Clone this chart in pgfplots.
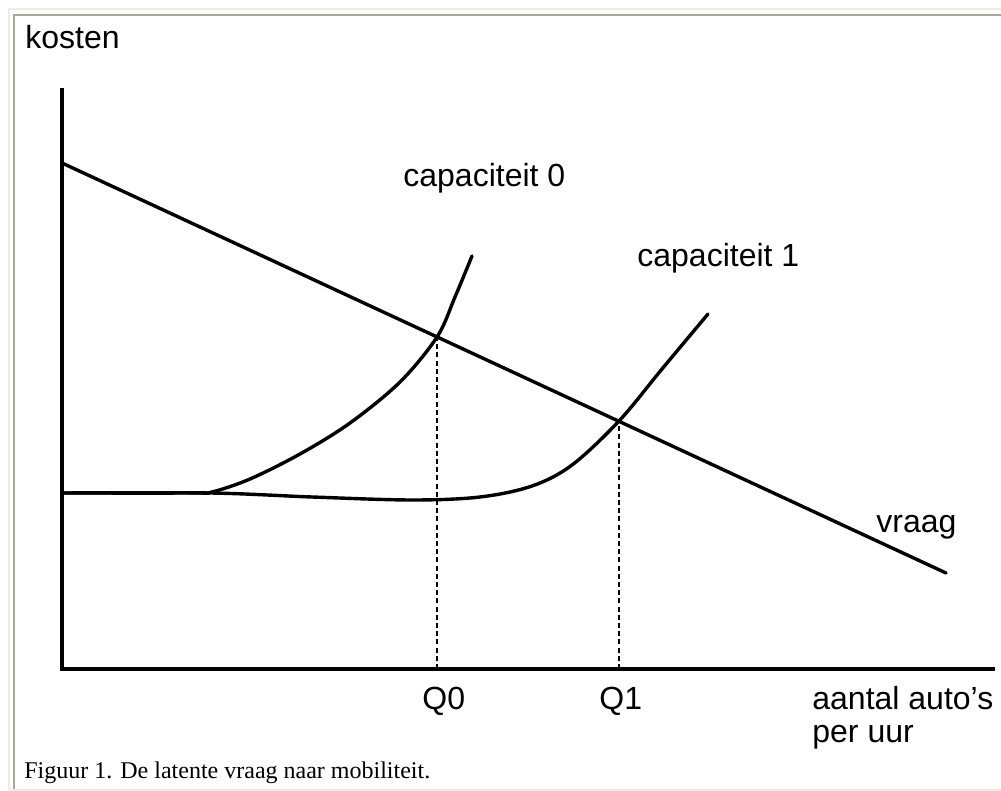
\documentclass[border=0pt]{standalone}
\usepackage{pgfplots}
\pgfplotsset{compat=1.18}
\usepackage{fontspec}
\setmainfont{Liberation Sans}
\newfontfamily\capfont{Liberation Serif}
\definecolor{frameout}{RGB}{239,235,222}
\definecolor{framein}{RGB}{172,168,153}
\tikzset{
  curve/.style={black, mark=none, line width=1.7pt, line cap=round, line join=round},
  guide/.style={black, mark=none, line width=0.8pt, dash pattern=on 2.5pt off 1.6pt, line cap=butt},
  lab/.style={anchor=base west, inner sep=0pt, font=\fontsize{16}{16}\selectfont},
}
\begin{document}
\begin{tikzpicture}
\path[use as bounding box] (-31pt,-61pt) rectangle (469.5pt,334.5pt);
\begin{axis}[
  at={(0pt,0pt)}, anchor=south west,
  scale only axis, width=465.5pt, height=289.5pt,
  xmin=0, xmax=931, ymin=0, ymax=579,
  enlargelimits=false,
  axis lines=left,
  axis line style={-, line width=1.6pt, line cap=rect},
  ticks=none,
  clip=false,
]
% demand (vraag)
\addplot[curve] coordinates {(0,506) (884,96)};
% capacity 1
\addplot[curve, smooth, tension=0.55] coordinates {(0,176) (148,176) (250,172) (350,169) (418,172) (470,183) (510,204) (557,248) (600,300) (646,355)};
% capacity 0
\addplot[curve, smooth, tension=0.55] coordinates {(0,176) (130,176) (150,177) (188,190) (238,215) (288,246) (338,287) (375,332) (393,372) (410,413)};
% guides
\addplot[guide] coordinates {(375,0) (375,332)};
\addplot[guide] coordinates {(557,0) (557,248)};
% labels
\node[lab] at (axis cs:-37,620) {kosten};
\node[lab] at (axis cs:341,482) {capaciteit 0};
\node[lab] at (axis cs:575,402) {capaciteit 1};
\node[lab] at (axis cs:814,136) {vraag};
\node[lab] at (axis cs:360,-40) {Q0};
\node[lab] at (axis cs:537,-40) {Q1};
\node[lab] at (axis cs:750,-40) {aantal auto's};
\node[lab] at (axis cs:750,-73) {per uur};
\node[anchor=base west, inner sep=0pt, font=\capfont\fontsize{12}{12}\selectfont] at (axis cs:-38,-109) {Figuur 1. De latente vraag naar mobiliteit.};
% frame
\draw[frameout, line width=1pt] (axis cs:-53,-121) -- (axis cs:-53,660) -- (axis cs:939,660);
\draw[framein, line width=1.2pt] (axis cs:-48,-121) -- (axis cs:-48,654) -- (axis cs:939,654);
\draw[frameout, line width=1pt] (axis cs:-53,-121) -- (axis cs:939,-121);
\end{axis}
\end{tikzpicture}
\end{document}
